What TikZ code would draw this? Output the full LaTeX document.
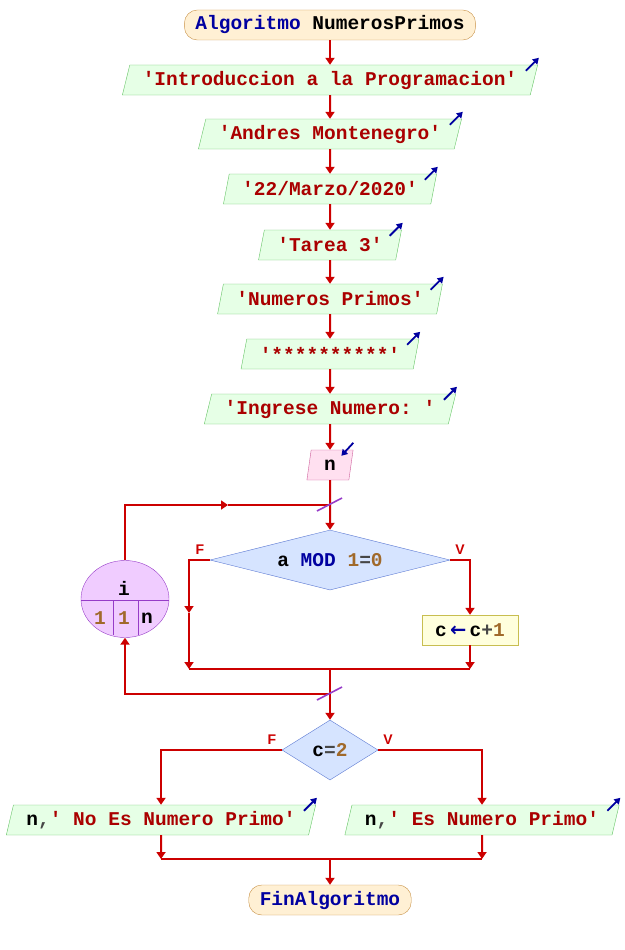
\documentclass[tikz,border=0pt]{standalone}
\usepackage{fontspec}
\setmonofont{Liberation Mono}
\setsansfont{Liberation Sans}
\newfontfamily\flechafont{DejaVu Sans}
\usetikzlibrary{shapes.geometric,arrows.meta}

\definecolor{flujorojo}{RGB}{204,0,0}
\definecolor{kwazul}{RGB}{0,0,160}
\definecolor{cadrojo}{RGB}{170,0,0}
\definecolor{nrocafe}{RGB}{160,105,42}
\definecolor{opgris}{RGB}{70,70,70}
\definecolor{salfondo}{RGB}{230,255,230}
\definecolor{salborde}{RGB}{100,195,100}
\definecolor{terfondo}{RGB}{255,240,212}
\definecolor{terborde}{RGB}{200,145,70}
\definecolor{entfondo}{RGB}{255,224,240}
\definecolor{entborde}{RGB}{205,95,155}
\definecolor{decfondo}{RGB}{214,228,255}
\definecolor{decborde}{RGB}{90,120,210}
\definecolor{profondo}{RGB}{255,255,221}
\definecolor{proborde}{RGB}{200,190,80}
\definecolor{ciclofondo}{RGB}{240,204,255}
\definecolor{cicloborde}{RGB}{150,60,200}

\newcommand{\kwd}[1]{\textcolor{kwazul}{#1}}
\newcommand{\cad}[1]{\textcolor{cadrojo}{#1}}
\newcommand{\nro}[1]{\textcolor{nrocafe}{#1}}
\newcommand{\opr}[1]{\textcolor{opgris}{#1}}

\begin{document}
\begin{tikzpicture}[x=1pt, y=-1pt,
  every node/.style={font=\ttfamily\bfseries\fontsize{19.5}{22}\selectfont, inner sep=0pt},
  terminal/.style={draw=terborde, fill=terfondo, rounded corners=13pt, minimum height=30, inner xsep=11},
  salida/.style={draw=salborde, fill=salfondo, trapezium, trapezium left angle=68, trapezium right angle=112, trapezium stretches=true, minimum height=30, inner xsep=13},
  entrada/.style={salida, draw=entborde, fill=entfondo},
  decision/.style={draw=decborde, fill=decfondo, diamond},
  proceso/.style={draw=proborde, fill=profondo, minimum width=96, minimum height=30},
  ciclo/.style={draw=cicloborde, fill=ciclofondo, ellipse, minimum width=88, minimum height=77},
  rotulo/.style={font=\sffamily\bfseries\fontsize{14}{16}\selectfont, text=flujorojo},
  flujo/.style={draw=flujorojo, line width=2pt},
  flecha/.style={flujo, -{Triangle[width=9pt,length=7pt]}},
  marcasal/.style={draw=kwazul, line width=1.8pt, -{Triangle[width=7pt,length=6pt]}},
  marcaciclo/.style={draw=cicloborde, line width=1.6pt}]
  \useasboundingbox (0,0) rectangle (624,950);

  % Nodes
  \node[terminal] (inicio) at (330,25) {\kwd{Algoritmo} NumerosPrimos};
  \node[salida] (o1) at (330,80) {\cad{'Introduccion a la Programacion'}};
  \node[salida] (o2) at (330,134) {\cad{'Andres Montenegro'}};
  \node[salida] (o3) at (330,189) {\cad{'22/Marzo/2020'}};
  \node[salida] (o4) at (330,245) {\cad{'Tarea 3'}};
  \node[salida] (o5) at (330,299) {\cad{'Numeros Primos'}};
  \node[salida] (o6) at (330,354) {\cad{'**********'}};
  \node[salida] (o7) at (330,409) {\cad{'Ingrese Numero: '}};
  \node[entrada] (leer) at (330,465) {n};
  \node[decision, minimum width=240, minimum height=60, aspect=4] (cond1) at (330,560) {a \kwd{MOD} \nro{1}\opr{=}\nro{0}};
  \node[proceso] (incr) at (470,630) {c\,\kwd{\flechafont ←}\,c\opr{+}\nro{1}};
  \node[ciclo] (ciclo) at (125,599) {};
  \node (cvar) at (124,588) {i};
  \node (cini) at (100,618) {\nro{1}};
  \node (cpaso) at (124,618) {\nro{1}};
  \node (cfin) at (147,618) {n};
  \node[decision, minimum width=96, minimum height=60, aspect=1.6] (cond2) at (330,750) {c\opr{=}\nro{2}};
  \node[salida] (nopri) at (161,820) {n\opr{,}\cad{' No Es Numero Primo'}};
  \node[salida] (espri) at (482,820) {n\opr{,}\cad{' Es Numero Primo'}};
  \node[terminal] (fin) at (330,900) {\kwd{FinAlgoritmo}};

  \node[rotulo] (f1) at (200,550) {F};
  \node[rotulo] (v1) at (460,550) {V};
  \node[rotulo] (f2) at (272,740) {F};
  \node[rotulo] (v2) at (388,740) {V};

  \coordinate (lazosup) at (330,505);
  \coordinate (lazoarr) at (228,505);
  \coordinate (fmed) at (189,613);
  \coordinate (funion) at (189,669);
  \coordinate (vunion) at (470,669);
  \coordinate (union1) at (330,669);
  \coordinate (lazoinf) at (330,694);
  \coordinate (union2izq) at (161,859);
  \coordinate (union2der) at (482,859);
  \coordinate (union2) at (330,859);

  % Edges
  \draw[flecha] (inicio) -- (o1);
  \draw[flecha] (o1) -- (o2);
  \draw[flecha] (o2) -- (o3);
  \draw[flecha] (o3) -- (o4);
  \draw[flecha] (o4) -- (o5);
  \draw[flecha] (o5) -- (o6);
  \draw[flecha] (o6) -- (o7);
  \draw[flecha] (o7) -- (leer);
  \draw[flecha] (leer) -- (cond1);
  \draw[flecha] (ciclo.north) |- (lazoarr);
  \draw[flujo] (lazoarr) -- (lazosup);
  \draw[flecha] (cond1.west) -| (fmed);
  \draw[flecha] (fmed) -- (funion);
  \draw[flecha] (cond1.east) -| (incr.north);
  \draw[flecha] (incr.south) -- (vunion);
  \draw[flujo] (funion) -- (vunion);
  \draw[flecha] (union1) -- (cond2.north);
  \draw[flecha] (lazoinf) -| (ciclo.south);
  \draw[flecha] (cond2.west) -| (nopri.north);
  \draw[flecha] (cond2.east) -| (espri.north);
  \draw[flecha] (nopri.south) -- (union2izq);
  \draw[flecha] (espri.south) -- (union2der);
  \draw[flujo] (union2izq) -- (union2der);
  \draw[flecha] (union2) -- (fin);

  % Marks
  \draw[cicloborde] (ciclo.west) ++(0,1) -- ++(88,0);
  \draw[cicloborde] (ciclo.center) ++(-12,1) -- ++(0,35);
  \draw[cicloborde] (ciclo.center) ++(13,1) -- ++(0,35);
  \foreach \s in {o1,o2,o3,o4,o5,o6,o7,nopri,espri}
    \draw[marcasal] (\s.top right corner) ++(-12,6) -- ++(13,-13);
  \draw[marcasal] (leer.top right corner) ++(0,-7) -- ++(-12,13);
  \draw[marcaciclo] (lazosup) ++(-13,6) -- ++(25,-13);
  \draw[marcaciclo] (lazoinf) ++(-13,6) -- ++(25,-13);
\end{tikzpicture}
\end{document}
